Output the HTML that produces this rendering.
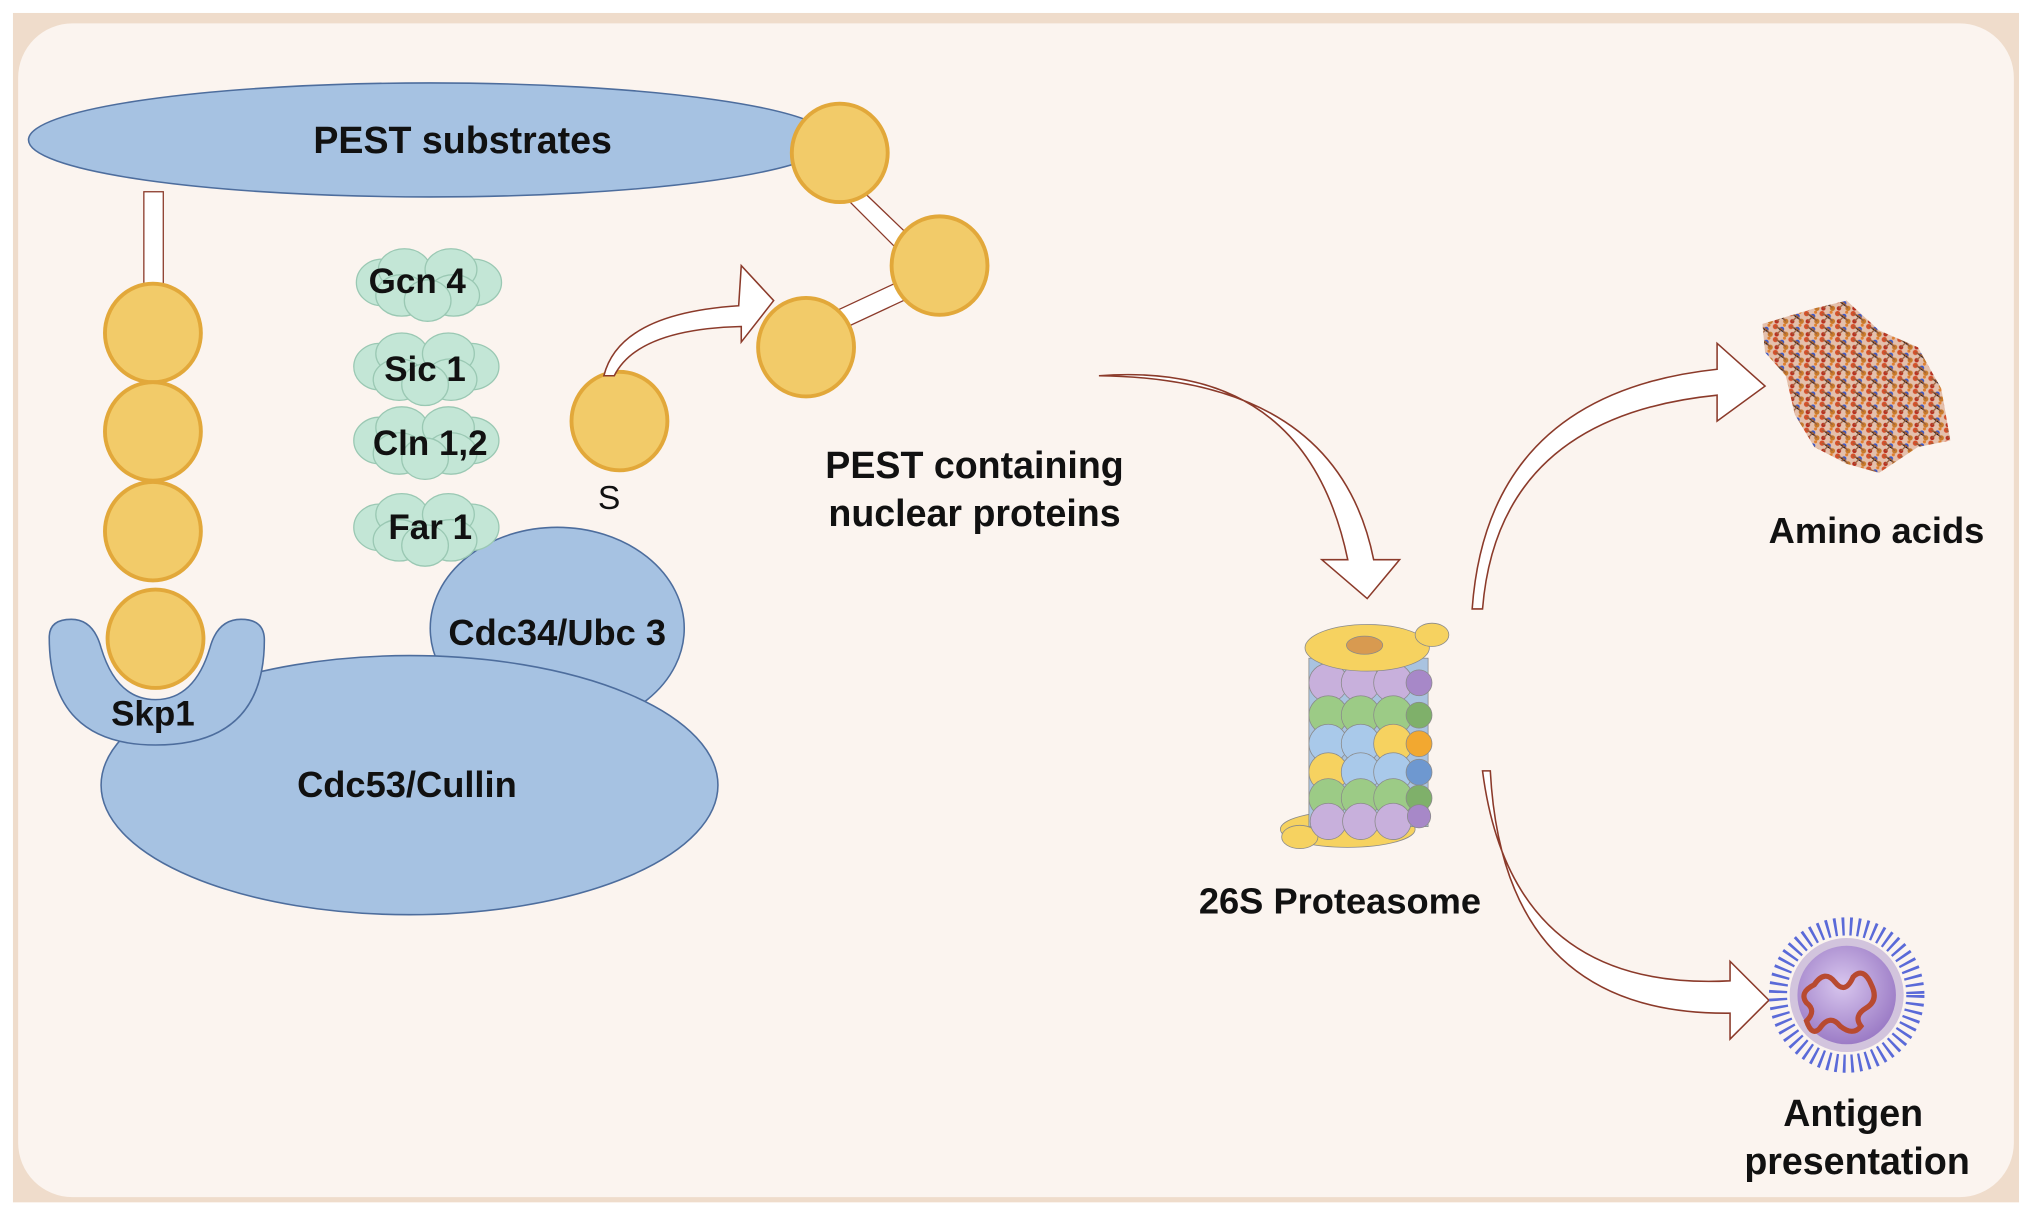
<!DOCTYPE html>
<html><head><meta charset="utf-8"><style>html,body{margin:0;padding:0;background:#fff}svg{display:block}text{font-family:"Liberation Sans",Arial,sans-serif;font-weight:bold;fill:#111}</style></head>
<body>
<svg width="2032" height="1214" viewBox="0 0 1568 937" preserveAspectRatio="none" xmlns="http://www.w3.org/2000/svg">
<defs>
<pattern id="aa" width="12" height="10" patternUnits="userSpaceOnUse">
<rect width="12" height="10" fill="#c8805a" opacity="0.45"/>
<circle cx="2" cy="2" r="2" fill="#d4502a"/><circle cx="7" cy="4" r="1.8" fill="#3a58c8"/><circle cx="10" cy="8" r="2" fill="#c87a2a"/><circle cx="3" cy="8" r="1.7" fill="#b83020"/><circle cx="9" cy="1" r="1.2" fill="#e08030"/>
<path d="M2 2L7 4L10 8M3 8L7 4" stroke="#a0603a" stroke-width="1"/>
</pattern>
<radialGradient id="vir" cx="0.45" cy="0.4" r="0.6"><stop offset="0" stop-color="#d8c6ee"/><stop offset="1" stop-color="#9c7cc6"/></radialGradient>
</defs>
<rect x="0" y="0" width="1568" height="937" fill="#fff"/>
<rect x="10" y="10" width="1548" height="918" fill="#efdccb"/>
<rect x="14" y="18" width="1540" height="906" rx="42" fill="#fbf4ef"/>

<rect x="111" y="148" width="15" height="80" fill="#fff" stroke="#8b3a2a" stroke-width="1"/>
<path d="M660 142 L712 192 L702 202 L652 152Z" fill="#fff" stroke="#8b3a2a" stroke-width="1"/>
<path d="M645 240 L705 212 L710 226 L650 254Z" fill="#fff" stroke="#8b3a2a" stroke-width="1"/>

<ellipse cx="332" cy="108" rx="310" ry="44" fill="#a6c2e2" stroke="#4d6d9d" stroke-width="1.2"/>
<text x="357" y="118" font-size="29" text-anchor="middle">PEST substrates</text>

<g fill="#f2cb69" stroke="#e2a83a" stroke-width="3">
<ellipse cx="648" cy="118" rx="37" ry="38"/>
<ellipse cx="725" cy="205" rx="37" ry="38"/>
<ellipse cx="622" cy="268" rx="37" ry="38"/>
<ellipse cx="478" cy="325" rx="37" ry="38"/>
<ellipse cx="118" cy="257" rx="37" ry="38"/>
<ellipse cx="118" cy="333" rx="37" ry="38"/>
<ellipse cx="118" cy="410" rx="37" ry="38"/>
</g>
<text x="470" y="393" font-size="26" style="font-weight:normal" text-anchor="middle">S</text>

<ellipse cx="430" cy="485" rx="98" ry="78" fill="#a6c2e2" stroke="#4d6d9d" stroke-width="1.2"/>
<ellipse cx="316" cy="606" rx="238" ry="100" fill="#a6c2e2" stroke="#4d6d9d" stroke-width="1.2"/>
<text x="314" y="615" font-size="28" text-anchor="middle">Cdc53/Cullin</text>
<text x="430" y="498" font-size="28" text-anchor="middle">Cdc34/Ubc 3</text>

<path d="M38 492 Q38 478 55 478 Q72 478 78 500 Q90 540 120 540 Q150 540 162 500 Q168 478 186 478 Q204 478 204 494 Q204 575 120 575 Q38 575 38 492Z" fill="#a6c2e2" stroke="#4d6d9d" stroke-width="1.2"/>
<ellipse cx="120" cy="493" rx="37" ry="38" fill="#f2cb69" stroke="#e2a83a" stroke-width="3"/>
<text x="118" y="560" font-size="27" text-anchor="middle">Skp1</text>

<g fill="#c3e6d6" stroke="#9ac8b3" stroke-width="1">
<g transform="translate(330,218)"><ellipse cx="-35" cy="0" rx="20" ry="18"/><ellipse cx="35" cy="0" rx="22" ry="18"/><ellipse cx="-18" cy="-10" rx="20" ry="16"/><ellipse cx="18" cy="-10" rx="20" ry="16"/><ellipse cx="-20" cy="10" rx="20" ry="16"/><ellipse cx="20" cy="10" rx="20" ry="16"/><ellipse cx="0" cy="14" rx="18" ry="16"/></g>
<g transform="translate(328,283)"><ellipse cx="-35" cy="0" rx="20" ry="18"/><ellipse cx="35" cy="0" rx="22" ry="18"/><ellipse cx="-18" cy="-10" rx="20" ry="16"/><ellipse cx="18" cy="-10" rx="20" ry="16"/><ellipse cx="-20" cy="10" rx="20" ry="16"/><ellipse cx="20" cy="10" rx="20" ry="16"/><ellipse cx="0" cy="14" rx="18" ry="16"/></g>
<g transform="translate(328,340)"><ellipse cx="-35" cy="0" rx="20" ry="18"/><ellipse cx="35" cy="0" rx="22" ry="18"/><ellipse cx="-18" cy="-10" rx="20" ry="16"/><ellipse cx="18" cy="-10" rx="20" ry="16"/><ellipse cx="-20" cy="10" rx="20" ry="16"/><ellipse cx="20" cy="10" rx="20" ry="16"/><ellipse cx="0" cy="14" rx="18" ry="16"/></g>
<g transform="translate(328,407)"><ellipse cx="-35" cy="0" rx="20" ry="18"/><ellipse cx="35" cy="0" rx="22" ry="18"/><ellipse cx="-18" cy="-10" rx="20" ry="16"/><ellipse cx="18" cy="-10" rx="20" ry="16"/><ellipse cx="-20" cy="10" rx="20" ry="16"/><ellipse cx="20" cy="10" rx="20" ry="16"/><ellipse cx="0" cy="14" rx="18" ry="16"/></g>
</g>
<text x="322" y="226" font-size="27" text-anchor="middle">Gcn 4</text>
<text x="328" y="294" font-size="27" text-anchor="middle">Sic 1</text>
<text x="332" y="351" font-size="27" text-anchor="middle">Cln 1,2</text>
<text x="332" y="416" font-size="27" text-anchor="middle">Far 1</text>

<g fill="#fff" stroke="#8b3a2a" stroke-width="1.2" stroke-linejoin="miter">
<path d="M466 290 Q478 242 570 236 L572 205 L597 232 L572 264 L572 252 Q492 254 474 290Z"/>
<path d="M848 290 Q1008 278 1040 432 L1020 432 L1055 462 L1080 432 L1060 432 Q1032 292 848 290Z"/>
<path d="M1136 470 Q1148 304 1325 285 L1325 265 L1362 298 L1325 325 L1325 305 Q1156 322 1144 470Z"/>
<path d="M1144 595 Q1166 766 1335 757 L1335 742 L1365 772 L1335 802 L1335 782 Q1160 784 1150 595Z"/>
</g>

<text x="752" y="369" font-size="29" text-anchor="middle">PEST containing</text>
<text x="752" y="406" font-size="29" text-anchor="middle">nuclear proteins</text>

<g stroke="#8a8a8a" stroke-width="0.6">
<ellipse cx="1040" cy="640" rx="52" ry="14" fill="#f6d260"/>
<ellipse cx="1003" cy="646" rx="14" ry="9" fill="#f6d260"/>
<rect x="1010" y="508" width="92" height="130" fill="#a9c3e0"/>
<circle cx="1025" cy="527" r="15" fill="#c8b0dc"/><circle cx="1050" cy="527" r="15" fill="#c8b0dc"/><circle cx="1075" cy="527" r="15" fill="#c8b0dc"/><circle cx="1095" cy="527" r="10" fill="#a788c8"/>
<circle cx="1025" cy="552" r="15" fill="#9ccb86"/><circle cx="1050" cy="552" r="15" fill="#9ccb86"/><circle cx="1075" cy="552" r="15" fill="#9ccb86"/><circle cx="1095" cy="552" r="10" fill="#7fb06a"/>
<circle cx="1025" cy="574" r="15" fill="#a9c9ea"/><circle cx="1050" cy="574" r="15" fill="#a9c9ea"/><circle cx="1075" cy="574" r="15" fill="#f6d260"/><circle cx="1095" cy="574" r="10" fill="#f2a830"/>
<circle cx="1025" cy="596" r="15" fill="#f6d260"/><circle cx="1050" cy="596" r="15" fill="#a9c9ea"/><circle cx="1075" cy="596" r="15" fill="#a9c9ea"/><circle cx="1095" cy="596" r="10" fill="#6e98d0"/>
<circle cx="1025" cy="616" r="15" fill="#9ccb86"/><circle cx="1050" cy="616" r="15" fill="#9ccb86"/><circle cx="1075" cy="616" r="15" fill="#9ccb86"/><circle cx="1095" cy="616" r="10" fill="#7fb06a"/>
<circle cx="1025" cy="634" r="14" fill="#c8b0dc"/><circle cx="1050" cy="634" r="14" fill="#c8b0dc"/><circle cx="1075" cy="634" r="14" fill="#c8b0dc"/><circle cx="1095" cy="630" r="9" fill="#a788c8"/>
<ellipse cx="1055" cy="500" rx="48" ry="18" fill="#f6d260"/>
<ellipse cx="1105" cy="490" rx="13" ry="9" fill="#f6d260"/>
<ellipse cx="1053" cy="498" rx="14" ry="7" fill="#d89a50"/>
</g>
<text x="1034" y="705" font-size="28" text-anchor="middle">26S Proteasome</text>

<path d="M1360 250 L1400 238 L1425 232 L1450 255 L1480 268 L1498 300 L1505 340 L1480 345 L1450 365 L1425 358 L1400 345 L1385 320 L1378 290 L1362 272Z" fill="url(#aa)"/>
<text x="1448" y="419" font-size="28" text-anchor="middle">Amino acids</text>

<circle cx="1425" cy="768" r="53" fill="none" stroke="#5a6ad8" stroke-width="14" stroke-dasharray="2 4"/>
<circle cx="1425" cy="768" r="44" fill="#c8b8d8" opacity="0.8"/>
<circle cx="1425" cy="768" r="38" fill="url(#vir)"/>
<path d="M1400 760 q8 -12 16 -2 q8 10 14 -4 q8 -8 14 6 q6 12 -4 18 q-10 6 -4 14 q-6 8 -16 0 q-8 -10 -16 2 q-6 6 -10 -6 q8 -8 0 -14 q-6 -8 6 -14z" fill="none" stroke="#b84a30" stroke-width="4"/>
<text x="1430" y="869" font-size="29" text-anchor="middle">Antigen</text>
<text x="1433" y="906" font-size="29" text-anchor="middle">presentation</text>
</svg>
</body></html>
